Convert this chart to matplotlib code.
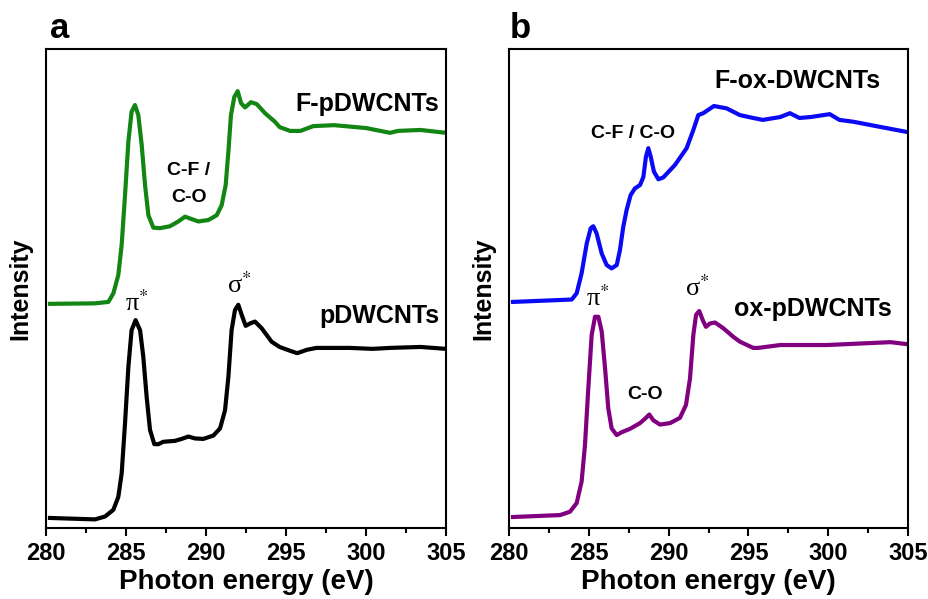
import matplotlib
matplotlib.use("Agg")
import matplotlib.pyplot as plt
from matplotlib.ticker import MultipleLocator

plt.rcParams["font.family"] = ["Liberation Sans", "DejaVu Sans"]
plt.rcParams["mathtext.fontset"] = "stix"

# ---- panel a: photon energy (eV) and normalised intensity (a.u.) ----
E_fp = [280.25, 283.06, 283.90, 284.21, 284.52, 284.73, 284.94, 285.15, 285.35, 285.56,
        285.77, 285.98, 286.19, 286.40, 286.71, 287.13, 287.75, 288.27, 288.69, 289.10,
        289.52, 290.15, 290.67, 290.98, 291.23, 291.40, 291.56, 291.77, 291.98, 292.19,
        292.44, 292.81, 293.17, 293.69, 294.31, 294.6, 295.25, 295.9, 296.7, 298.0, 300.0,
        301.5, 302.0, 303.4, 305.0]
I_fp = [0.468, 0.469, 0.472, 0.490, 0.528, 0.591, 0.695, 0.807, 0.869, 0.883,
        0.862, 0.800, 0.716, 0.653, 0.627, 0.626, 0.630, 0.640, 0.650, 0.645,
        0.640, 0.643, 0.653, 0.674, 0.716, 0.786, 0.862, 0.900, 0.912, 0.887,
        0.878, 0.889, 0.885, 0.866, 0.848, 0.837, 0.829, 0.829, 0.839, 0.841, 0.835,
        0.825, 0.829, 0.831, 0.825]

E_p = [280.25, 283.06, 283.69, 284.21, 284.52, 284.73, 284.94, 285.15, 285.35, 285.60,
       285.88, 286.08, 286.29, 286.50, 286.77, 287.02, 287.33, 288.06, 288.48, 288.90,
       289.31, 289.83, 290.46, 290.88, 291.19, 291.40, 291.60, 291.81, 292.02, 292.23,
       292.48, 292.75, 293.06, 293.48, 294.10, 294.6, 295.25, 295.7, 296.3, 296.9, 299.0,
       300.4, 301.5, 303.4, 305.0]
I_p = [0.021, 0.018, 0.024, 0.038, 0.065, 0.114, 0.219, 0.337, 0.413, 0.434,
       0.413, 0.358, 0.274, 0.205, 0.175, 0.175, 0.180, 0.182, 0.186, 0.191,
       0.187, 0.186, 0.193, 0.208, 0.246, 0.316, 0.413, 0.455, 0.466, 0.445,
       0.422, 0.427, 0.431, 0.417, 0.389, 0.378, 0.370, 0.365, 0.372, 0.376, 0.376,
       0.374, 0.376, 0.378, 0.374]

# ---- panel b ----
E_fox = [280.25, 283.20, 283.93, 284.24, 284.55, 284.87, 285.12, 285.28, 285.49, 285.81,
         286.12, 286.43, 286.75, 286.95, 287.16, 287.37, 287.62, 287.89, 288.21, 288.42,
         288.58, 288.73, 288.88, 289.08, 289.36, 289.67, 290.40, 291.13, 291.55, 291.86,
         292.17, 292.84, 293.64, 294.47, 295.3, 295.9, 297.0, 297.6, 298.2, 298.9, 300.1,
         300.7, 301.6, 303.0, 304.9]
I_fox = [0.472, 0.476, 0.477, 0.490, 0.532, 0.594, 0.626, 0.630, 0.615, 0.573,
         0.549, 0.542, 0.549, 0.580, 0.629, 0.664, 0.695, 0.709, 0.716, 0.733,
         0.775, 0.793, 0.775, 0.744, 0.728, 0.732, 0.758, 0.793, 0.831, 0.862,
         0.866, 0.881, 0.876, 0.862, 0.856, 0.852, 0.858, 0.866, 0.856, 0.858, 0.864,
         0.852, 0.848, 0.839, 0.827]

E_ox = [280.25, 283.20, 283.82, 284.24, 284.55, 284.76, 284.97, 285.18, 285.39, 285.60,
        285.81, 286.02, 286.22, 286.43, 286.75, 287.06, 287.58, 288.21, 288.58, 288.79,
        289.04, 289.46, 290.09, 290.71, 291.09, 291.34, 291.55, 291.72, 291.92, 292.14,
        292.34, 292.59, 292.91, 293.43, 294.06, 294.47, 295.3, 295.6, 297.0, 299.9,
        303.9, 304.9]
I_ox = [0.023, 0.027, 0.034, 0.052, 0.097, 0.173, 0.292, 0.403, 0.441, 0.441,
        0.410, 0.333, 0.250, 0.208, 0.194, 0.200, 0.207, 0.219, 0.230, 0.237,
        0.225, 0.216, 0.219, 0.230, 0.257, 0.312, 0.403, 0.445, 0.453, 0.434,
        0.420, 0.427, 0.429, 0.417, 0.399, 0.389, 0.376, 0.376, 0.382, 0.382,
        0.388, 0.384]

xticks = [280, 285, 290, 295, 300, 305]

fig = plt.figure(figsize=(9.29, 5.99), dpi=100)
axA = fig.add_axes([0.0495, 0.1185, 0.4306, 0.7997])
axB = fig.add_axes([0.5479, 0.1185, 0.4295, 0.7997])

axA.plot(E_fp, I_fp, color="#128512", lw=3, solid_joinstyle="round")
axA.plot(E_p, I_p, color="black", lw=3, solid_joinstyle="round")
axB.plot(E_fox, I_fox, color="#0a0af5", lw=3, solid_joinstyle="round")
axB.plot(E_ox, I_ox, color="#800080", lw=3, solid_joinstyle="round")

for ax in (axA, axB):
    ax.set_xlim(280, 305)
    ax.set_ylim(0, 1)
    ax.set_xticks(xticks)
    ax.xaxis.set_minor_locator(MultipleLocator(2.5))
    ax.set_yticks([])
    ax.tick_params(axis="x", which="major", direction="out", length=6, width=1.5,
                   labelsize=17, pad=4)
    ax.tick_params(axis="x", which="minor", direction="out", length=3.5, width=1.5)
    for lab in ax.get_xticklabels():
        lab.set_fontweight("bold")
    for sp in ax.spines.values():
        sp.set_linewidth(1.5)
    ax.set_xlabel("Photon energy (eV)", fontsize=20, fontweight="bold", labelpad=3)
    ax.set_ylabel("Intensity", fontsize=18, fontweight="bold")

axA.yaxis.set_label_coords(-0.033, 0.5)
axB.yaxis.set_label_coords(-0.033, 0.5)

lbl = dict(fontsize=18, fontweight="bold", ha="center", va="center")
sm = dict(fontsize=14, fontweight="bold", ha="center", va="center")
star = dict(fontsize=19, ha="center", va="center", family="Liberation Serif")

axA.text(300.06, 0.885, "F-pDWCNTs", **lbl)
axA.text(300.81, 0.443, "pDWCNTs", **lbl)
axA.text(288.94, 0.747, "C-F /", **sm)
axA.text(288.94, 0.689, "C-O", **sm)
axA.text(285.69, 0.470, "π$^{*}$", **star)
axA.text(292.06, 0.507, "σ$^{*}$", **star)

axB.text(298.05, 0.933, "F-ox-DWCNTs", **lbl)
axB.text(299.05, 0.457, "ox-pDWCNTs", **lbl)
axB.text(287.77, 0.823, "C-F / C-O", **sm)
axB.text(288.52, 0.278, "C-O", **sm)
axB.text(285.58, 0.480, "π$^{*}$", **star)
axB.text(291.78, 0.501, "σ$^{*}$", **star)

fig.text(50 / 929, 1 - 38 / 599, "a", fontsize=25, fontweight="bold", va="baseline")
fig.text(510 / 929, 1 - 38 / 599, "b", fontsize=25, fontweight="bold", va="baseline")

fig.savefig("out.png", dpi=100)
